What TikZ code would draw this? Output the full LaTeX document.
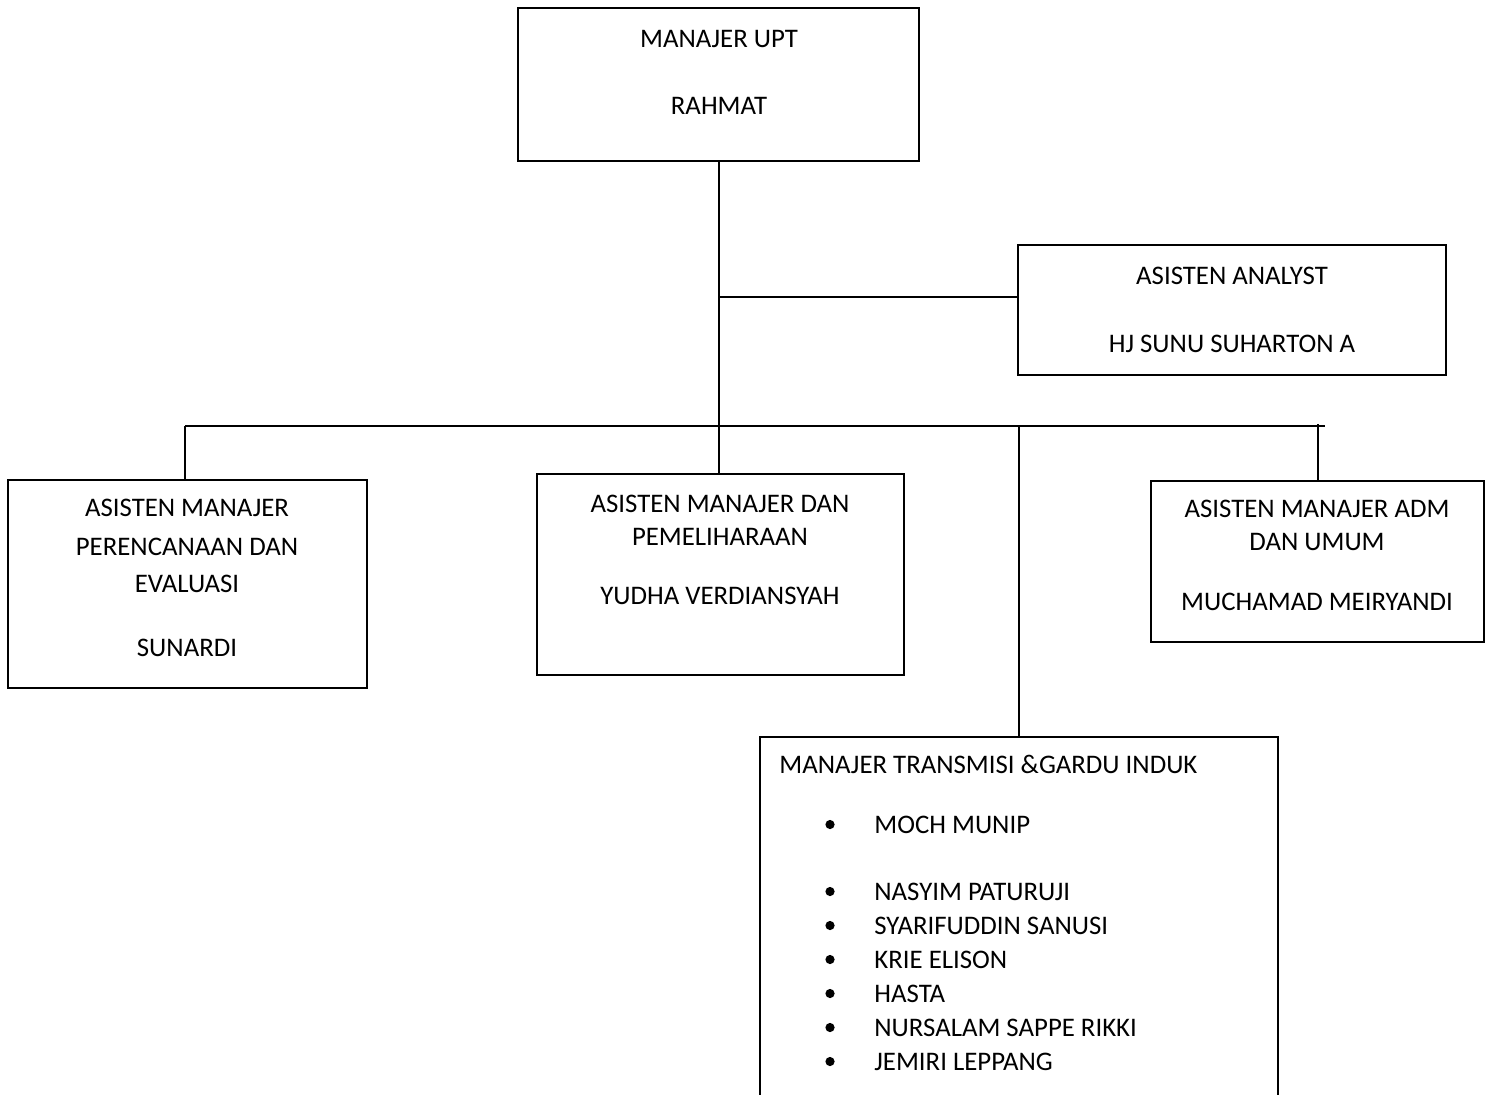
\documentclass[tikz,border=0pt]{standalone}
\usepackage{fontspec}
\setmainfont{Carlito}
\usetikzlibrary{positioning}

\tikzset{
  kotak/.style={draw, line width=1pt, rectangle, inner sep=0pt},
  teks/.style={inner sep=0pt, anchor=base, font=\fontsize{13.4}{16}\selectfont},
  garis/.style={line width=1pt}
}

\begin{document}
\begin{tikzpicture}[x=0.5pt, y=-0.5pt]
\clip (0,0) rectangle (1491,1094);   % ukuran gambar
\fill[white] (0,0) rectangle (1491,1094);

% kotak-kotak jabatan
\node[kotak, minimum width=200.5pt, minimum height=76.5pt] (upt) at (718.5,84.5) {};
\node[kotak, minimum width=214pt, minimum height=65pt] (analyst) at (1232,310) {};
\node[kotak, minimum width=179.5pt, minimum height=104pt] (renev) at (187.5,584) {};
\node[kotak, minimum width=183.5pt, minimum height=100.5pt] (har) at (720.5,574.5) {};
\node[kotak, minimum width=166.5pt, minimum height=80.5pt] (adm) at (1317.5,561.5) {};
\node[kotak, minimum width=259pt, minimum height=186.5pt] (tragi) at (1019,923.5) {};

% teks di dalam kotak
\node[teks] (upt1) at (719,47.5) {MANAJER UPT};
\node[teks] (upt2) at (719,114.5) {RAHMAT};
\node[teks] (an1) at (1232,284.5) {ASISTEN ANALYST};
\node[teks] (an2) at (1232,352.5) {HJ SUNU SUHARTON A};
\node[teks] (re1) at (187,516.5) {ASISTEN MANAJER};
\node[teks] (re2) at (187,555.5) {PERENCANAAN DAN};
\node[teks] (re3) at (187,592.5) {EVALUASI};
\node[teks] (re4) at (187,656.5) {SUNARDI};
\node[teks] (ha1) at (720,512.5) {ASISTEN MANAJER DAN};
\node[teks] (ha2) at (720,545.5) {PEMELIHARAAN};
\node[teks] (ha3) at (720,604.5) {YUDHA VERDIANSYAH};
\node[teks] (ad1) at (1317,517) {ASISTEN MANAJER ADM};
\node[teks] (ad2) at (1317,550) {DAN UMUM};
\node[teks] (ad3) at (1317,610) {MUCHAMAD MEIRYANDI};
\node[teks, anchor=base west] (tg0) at (779,773) {MANAJER TRANSMISI \&GARDU INDUK};

% daftar nama dengan bullet
\foreach \nama/\yy [count=\i] in {MOCH MUNIP/833, NASYIM PATURUJI/900,
    SYARIFUDDIN SANUSI/934, KRIE ELISON/968, HASTA/1002,
    NURSALAM SAPPE RIKKI/1036, JEMIRI LEPPANG/1070}{
  \fill (830,\yy-8.5) circle[radius=2.3pt];
  \node[teks, anchor=base west] (tg\i) at (874,\yy) {\nama};
}

% garis penghubung
\coordinate (cabang) at (719,297);
\coordinate (busL) at (185,426);
\coordinate (busR) at (1325,426);
\draw[garis] (upt.south) -- (upt.south |- har.north);
\draw[garis] (cabang) -- (cabang -| analyst.west);
\draw[garis] (busL) -- (busR);
\draw[garis] (busL) -- (busL |- renev.north);
\draw[garis] ([yshift=1pt]adm.north |- busL) -- (adm.north);
\draw[garis] (tragi.north |- busL) -- (tragi.north);
\end{tikzpicture}
\end{document}
